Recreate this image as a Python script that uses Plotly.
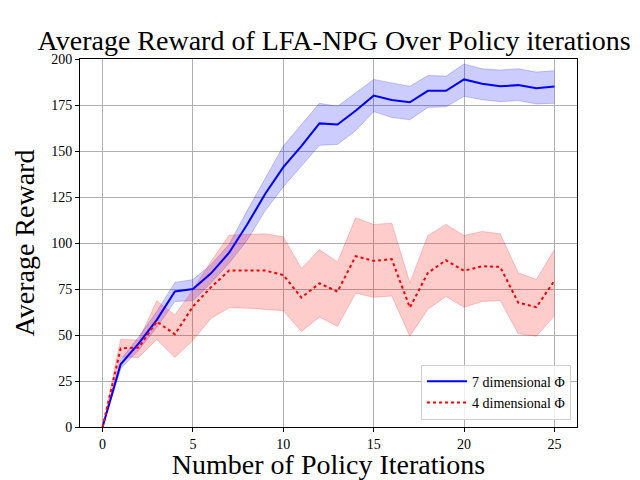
import plotly.graph_objects as go

iters = list(range(26))

npg7_mean = [0, 34.1, 45.4, 58.2, 73.7, 75.0, 83.5, 94.7, 110.0, 126.8, 141.2, 152.7, 165.0, 164.4, 171.9, 180.1,
             177.7, 176.5, 182.7, 182.7, 188.9, 186.5, 185.2, 185.8, 184.1, 185.0]
npg7_upper = [0, 36.5, 49.0, 62.8, 78.6, 80.1, 88.3, 99.3, 117.6, 135.0, 152.7, 164.4, 175.9, 174.3, 181.6, 188.9,
              187.0, 185.2, 191.0, 190.7, 197.3, 194.7, 194.0, 194.7, 192.9, 193.6]
npg7_lower = [0, 31.6, 41.8, 54.2, 68.2, 68.6, 78.3, 89.0, 101.5, 117.6, 130.5, 141.8, 153.1, 153.6, 161.0, 171.4,
              168.2, 167.0, 173.7, 174.0, 179.7, 177.9, 176.8, 177.4, 175.6, 175.9]

npg4_mean = [0, 42.7, 43.2, 57.3, 50.4, 65.5, 76.0, 85.0, 85.0, 85.0, 82.6, 70.3, 78.1, 73.6, 92.8, 90.3,
             91.2, 64.9, 83.8, 90.6, 84.9, 87.4, 87.0, 67.6, 65.1, 79.5]
npg4_upper = [0, 47.6, 47.3, 68.6, 60.9, 74.6, 90.0, 104.2, 104.7, 105.0, 103.4, 86.2, 96.4, 89.7, 113.7, 110.1,
              110.8, 78.4, 104.1, 110.1, 104.1, 106.3, 105.0, 83.8, 80.2, 96.4]
npg4_lower = [0, 38.1, 37.8, 47.6, 37.8, 47.1, 59.0, 64.8, 64.6, 63.7, 63.2, 51.9, 59.7, 54.7, 72.7, 70.5,
              71.2, 49.3, 64.0, 70.9, 65.1, 68.2, 68.7, 50.7, 49.3, 60.4]

x_ticks = [0, 5, 10, 15, 20, 25]
y_ticks = [0, 25, 50, 75, 100, 125, 150, 175, 200]

FONT = "Liberation Serif"
fig = go.Figure()

# bands
fig.add_trace(go.Scatter(x=iters, y=npg7_lower, mode="lines", line=dict(color="rgba(0,0,255,0.2)", width=1),
                         showlegend=False, hoverinfo="skip"))
fig.add_trace(go.Scatter(x=iters, y=npg7_upper, mode="lines", line=dict(color="rgba(0,0,255,0.2)", width=1),
                         fill="tonexty", fillcolor="rgba(0,0,255,0.2)", showlegend=False, hoverinfo="skip"))
fig.add_trace(go.Scatter(x=iters, y=npg4_lower, mode="lines", line=dict(color="rgba(255,0,0,0.2)", width=1),
                         showlegend=False, hoverinfo="skip"))
fig.add_trace(go.Scatter(x=iters, y=npg4_upper, mode="lines", line=dict(color="rgba(255,0,0,0.2)", width=1),
                         fill="tonexty", fillcolor="rgba(255,0,0,0.2)", showlegend=False, hoverinfo="skip"))

# mean lines
fig.add_trace(go.Scatter(x=iters, y=npg7_mean, mode="lines", name="7 dimensional Φ",
                         line=dict(color="#0000ff", width=2)))
fig.add_trace(go.Scatter(x=iters, y=npg4_mean, mode="lines", name="4 dimensional Φ",
                         line=dict(color="#ff0000", width=2, dash="dot")))

fig.update_layout(
    width=640, height=480,
    margin=dict(l=80, r=63, t=59, b=53, autoexpand=False),
    paper_bgcolor="white", plot_bgcolor="white",
    font=dict(family=FONT, color="black", size=14),
    title=dict(text="Average Reward of LFA-NPG Over Policy iterations", x=0.5113, xanchor="center",
               xref="paper", yref="paper", y=1, yanchor="bottom", pad=dict(b=9),
               font=dict(family=FONT, size=28, color="black")),
    legend=dict(x=0.988, y=0.02, xanchor="right", yanchor="bottom", bgcolor="rgba(255,255,255,0.8)",
                bordercolor="#d0d0d0", borderwidth=1, font=dict(family=FONT, size=14),
                traceorder="normal", tracegroupgap=2, itemwidth=40),
    showlegend=True,
)
fig.update_xaxes(range=[-1.25, 26.25], tickvals=x_ticks, ticks="outside", ticklen=4, tickcolor="black",
                 showline=True, linecolor="black", linewidth=1, mirror=True, showgrid=True,
                 gridcolor="#b0b0b0", gridwidth=1, zeroline=False, automargin=False,
                 title=dict(text="Number of Policy Iterations", font=dict(family=FONT, size=28), standoff=6),
                 tickfont=dict(family=FONT, size=14))
fig.update_yaxes(range=[0, 200], tickvals=y_ticks, ticks="outside", ticklen=4, tickcolor="black",
                 showline=True, linecolor="black", linewidth=1, mirror=True, showgrid=True,
                 gridcolor="#b0b0b0", gridwidth=1, zeroline=False, automargin=False,
                 title=dict(text="Average Reward", font=dict(family=FONT, size=28), standoff=8),
                 tickfont=dict(family=FONT, size=14))

fig.write_html("out.html", config={"displayModeBar": False},
               post_script="document.body.style.margin='0';document.body.style.padding='0';"
                           "document.body.style.overflow='hidden';")
